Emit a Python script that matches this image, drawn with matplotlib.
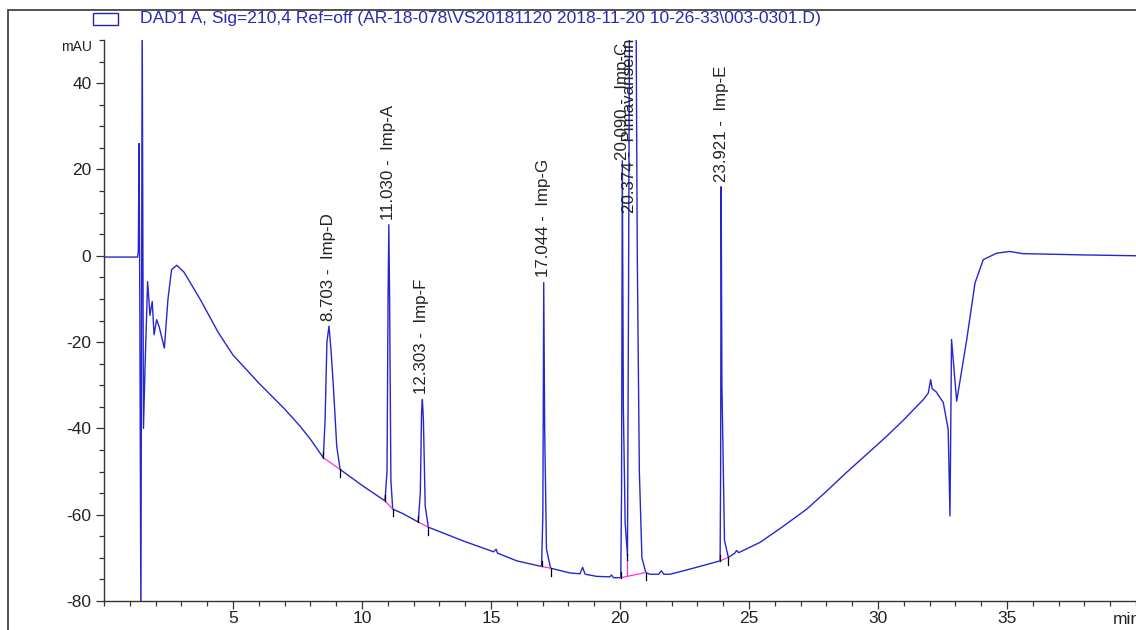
import matplotlib
matplotlib.use("Agg")
import matplotlib.pyplot as plt
from matplotlib.ticker import MultipleLocator
from matplotlib.patches import Rectangle

plt.rcParams['font.family'] = ['Liberation Sans', 'DejaVu Sans']
plt.rcParams['axes.unicode_minus'] = False

# ---- chromatogram trace (time in min, signal in mAU) ----
time_min = [0.00, 1.30, 1.33, 1.36, 1.39, 1.43, 1.48, 1.53, 1.59, 1.69, 1.78, 1.87, 1.94, 2.04,
            2.14, 2.34, 2.48, 2.62, 2.82, 3.10, 3.40, 3.72, 4.43, 5.00, 6.00, 7.00, 7.60, 8.00,
            8.50, 8.57, 8.64, 8.72, 8.80, 8.89, 9.02, 9.15, 10.00,
            10.89, 10.97, 11.01, 11.04, 11.07, 11.12, 11.19, 11.60,
            12.18, 12.26, 12.31, 12.34, 12.38, 12.45, 12.57, 13.00, 13.93,
            15.10, 15.20, 15.25, 16.00,
            16.96, 17.01, 17.044, 17.08, 17.15, 17.31, 18.06, 18.45, 18.55, 18.65,
            19.10, 19.60, 19.67, 19.75,
            20.03, 20.06, 20.09, 20.13, 20.20, 20.29, 20.33, 20.37, 20.62, 20.67, 20.75, 20.85,
            21.00, 21.16, 21.50, 21.60, 21.70, 21.94, 22.84,
            23.88, 23.90, 23.921, 23.95, 24.05, 24.20, 24.45, 24.52, 24.60,
            25.43, 26.30, 27.24, 28.00, 28.78, 29.60, 30.34, 31.00, 31.76, 31.95, 32.04, 32.10,
            32.25, 32.53, 32.72, 32.79, 32.85, 33.05, 33.44, 33.76, 34.08, 34.60, 35.10, 35.60,
            37.95, 40.00]
signal_mau = [-0.3, -0.3, 1.0, 26.0, -14.0, -85.0, 55.0, -40.0, -25.9, -6.0, -13.8, -10.6, -18.3, -14.8,
              -16.5, -21.4, -10.0, -3.2, -2.2, -3.8, -6.8, -10.0, -17.8, -23.0, -29.5, -35.5, -39.5, -42.5,
              -46.8, -38.0, -20.0, -16.3, -22.0, -30.2, -44.1, -49.5, -53.2,
              -56.8, -50.0, -10.0, 7.2, -10.0, -52.0, -58.7, -59.8,
              -61.7, -55.0, -36.0, -33.3, -38.0, -58.0, -62.9, -63.9, -66.1,
              -68.6, -68.0, -68.9, -70.7,
              -72.0, -60.0, -6.2, -40.0, -68.0, -72.4, -73.5, -73.7, -72.2, -73.8,
              -74.3, -74.4, -74.0, -74.6,
              -74.6, -55.0, 22.0, -35.0, -62.0, -69.5, -10.0, 60.0, 60.0, 0.0, -50.0, -70.0,
              -73.4, -73.8, -73.8, -73.0, -73.8, -73.8, -72.4,
              -70.7, -50.0, 16.0, -30.0, -66.0, -69.9, -68.9, -68.3, -68.8,
              -66.4, -62.8, -58.7, -54.6, -50.2, -45.8, -41.8, -38.0, -33.3, -31.8, -28.7, -30.8,
              -31.5, -34.0, -40.2, -60.3, -19.4, -33.7, -19.4, -6.3, -0.9, 0.6, 1.0, 0.5,
              0.2, 0.0]

# ---- peak annotations ----
peak_rt = [8.703, 11.030, 12.303, 17.044, 20.090, 20.374, 23.921]
peak_names = ["Imp-D", "Imp-A", "Imp-F", "Imp-G", "Imp-C", "Pimavanserin", "Imp-E"]
label_base_mau = [-15.1, 8.4, -32.1, -5.0, 22.2, 9.9, 17.2]

# ---- integration events ----
int_start_t = [8.50, 10.89, 12.18, 16.96, 20.03, 23.88]
int_start_y = [-46.8, -56.8, -61.7, -72.0, -74.6, -70.7]
int_end_t = [9.15, 11.19, 12.57, 17.31, 21.00, 24.20]
int_end_y = [-49.5, -58.7, -62.9, -72.4, -73.4, -69.9]
valley_t = [20.29]
valley_y = [-70.5]
valley_base_y = [-74.2]

legend_text = "DAD1 A, Sig=210,4 Ref=off (AR-18-078\\VS20181120 2018-11-20 10-26-33\\003-0301.D)"

W, H = 1136, 630
fig = plt.figure(figsize=(W / 100, H / 100), dpi=100)
ax = fig.add_axes([104 / W, 29 / H, 1 - 104 / W, (601 - 40) / H])

trace_color = "#2626cf"
ax.plot(time_min, signal_mau, color=trace_color, lw=1.0, solid_joinstyle="round")

# integration baselines and tick marks
for ts, ys, te, ye in zip(int_start_t, int_start_y, int_end_t, int_end_y):
    ax.plot([ts, te], [ys, ye], color="#ff33cc", lw=0.9, zorder=3)
    ax.plot([ts, ts], [ys, ys + 1.3], color="black", lw=0.9, zorder=4)
    ax.plot([te, te], [ye - 1.7, ye], color="black", lw=0.9, zorder=4)
for vt, vy, vb in zip(valley_t, valley_y, valley_base_y):
    ax.plot([vt, vt], [vb, vy], color="#ff33cc", lw=0.9, zorder=3)
    ax.plot([vt, vt], [vy, vy + 1.5], color="black", lw=0.9, zorder=4)

for rt, name, ly in zip(peak_rt, peak_names, label_base_mau):
    ax.text(rt, ly, f"{rt:.3f} -  {name}", rotation=90, ha="center", va="bottom",
            fontsize=12.2, color="#222222", clip_on=False)

ax.set_xlim(0, 40)
ax.set_ylim(-80, 50)
ax.xaxis.set_minor_locator(MultipleLocator(1))
ax.yaxis.set_minor_locator(MultipleLocator(5))
ax.set_xticks([5, 10, 15, 20, 25, 30, 35])
ax.set_yticks([-80, -60, -40, -20, 0, 20, 40])

for s in ("top", "right"):
    ax.spines[s].set_visible(False)
for s in ("left", "bottom"):
    ax.spines[s].set_color("#333333")
    ax.spines[s].set_linewidth(1.0)

ax.tick_params(which="major", length=6, width=0.9, color="#333333", labelsize=12.5,
               labelcolor="#222222")
ax.tick_params(which="minor", length=3.8, width=0.9, color="#333333")
ax.tick_params(axis="y", which="major", pad=3)
ax.tick_params(axis="x", which="major", pad=1)

# unit labels
fig.text(92 / W, 1 - 47 / H, "mAU", ha="right", va="center", fontsize=10, color="#222222")
fig.text(1113 / W, 1 - 619 / H, "min", ha="left", va="center", fontsize=12.5, color="#222222")

# legend
fig.add_artist(Rectangle((93 / W, 1 - 25 / H), 25 / W, 12 / H, transform=fig.transFigure,
                         fill=False, ec="#2323aa", lw=1.0))
fig.text(140 / W, 1 - 19 / H, legend_text, ha="left", va="center", fontsize=12.6,
         color="#2a2ab4")

# outer frame
fig.add_artist(Rectangle((7.5 / W, -0.2), 1.2, 1.2 - 10 / H, transform=fig.transFigure,
                         fill=False, ec="#444444", lw=1.3))

fig.savefig("out.png", dpi=100)
